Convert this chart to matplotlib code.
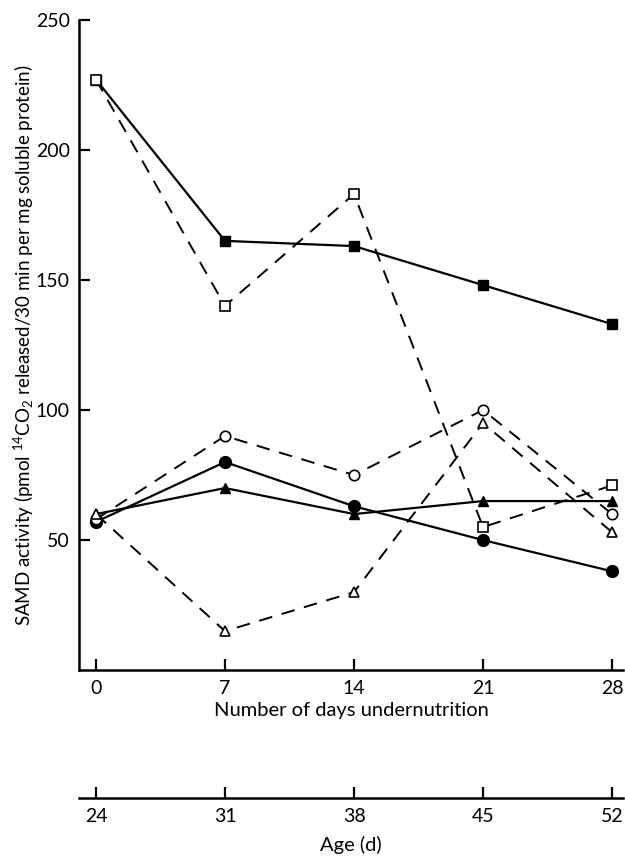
import matplotlib
matplotlib.use('Agg')
from matplotlib import pyplot as plt

# Values (SAMD activity, pmol 14CO2/30 min per mg protein)
days = [0, 7, 14, 21, 28]
age_labels = ['24', '31', '38', '45', '52']
y_ticks = [50, 100, 150, 200, 250]

filled_square = [227, 165, 163, 148, 133]
open_square = [227, 140, 183, 55, 71]
filled_circle = [57, 80, 63, 50, 38]
open_circle = [58, 90, 75, 100, 60]
filled_triangle = [60, 70, 60, 65, 65]
open_triangle = [60, 15, 30, 95, 53]

plt.rcParams['font.family'] = ['Lato', 'DejaVu Sans']
plt.rcParams['mathtext.fontset'] = 'custom'
plt.rcParams['mathtext.rm'] = 'Lato'
plt.rcParams['mathtext.it'] = 'Lato:italic'

fig = plt.figure(figsize=(6.25, 8.57), dpi=100)
ax = fig.add_axes([0.127, 0.218, 0.870, 0.759])

dash = (7, 5)
solid_kw = dict(color='black', lw=1.6, linestyle='-')
ax.plot(days, filled_square, marker='s', ms=7.5, mfc='black', mec='black', **solid_kw)
ax.plot(days, filled_circle, marker='o', ms=8.5, mfc='black', mec='black', **solid_kw)
ax.plot(days, filled_triangle, marker='^', ms=7.5, mfc='black', mec='black', **solid_kw)
for vals, m, s in [(open_square, 's', 6.5), (open_circle, 'o', 7.5), (open_triangle, '^', 7)]:
    line, = ax.plot(days, vals, color='black', lw=1.4, marker=m, ms=s,
                    mfc='white', mec='black', mew=1.2)
    line.set_dashes(dash)

ax.set_xlim(-0.9, 28.6)
ax.set_ylim(0, 250)
ax.spines['top'].set_visible(False)
ax.spines['right'].set_visible(False)
for sp in ['left', 'bottom']:
    ax.spines[sp].set_linewidth(1.8)
ax.set_xticks(days)
ax.set_xticklabels([str(d) for d in days])
ax.set_yticks(y_ticks)
ax.tick_params(axis='both', direction='in', length=8, width=1.6, labelsize=14, pad=7)
ax.set_xlabel('Number of days undernutrition', fontsize=14.5, labelpad=4)
ax.set_ylabel(r'SAMD activity (pmol $^{14}$CO$_2$ released/30 min per mg soluble protein)',
              fontsize=13.5, labelpad=0)

# Second axis with age
ax2 = fig.add_axes([0.127, 0.0688, 0.870, 0.001])
ax2.set_xlim(-0.9, 28.6)
for sp in ['top', 'right', 'left']:
    ax2.spines[sp].set_visible(False)
ax2.spines['bottom'].set_linewidth(1.8)
ax2.set_yticks([])
ax2.set_xticks(days)
ax2.set_xticklabels(age_labels)
ax2.tick_params(axis='x', direction='in', length=8, width=1.6, labelsize=14, pad=7)
ax2.set_xlabel('Age (d)', fontsize=14.5, labelpad=8)
ax2.patch.set_visible(False)

fig.savefig('out.png', dpi=100)
